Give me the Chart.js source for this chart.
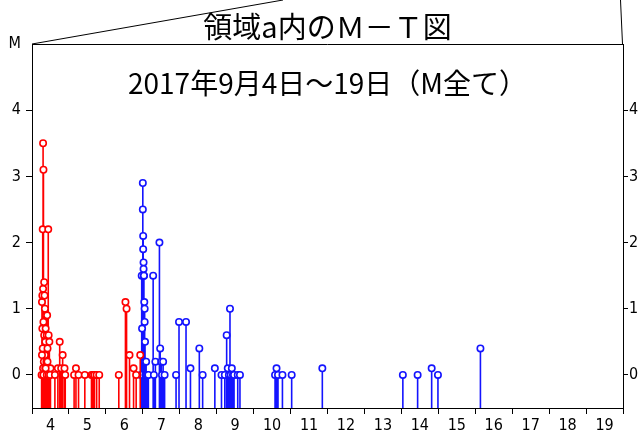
<!DOCTYPE html>
<html>
<head>
<meta charset="utf-8">
<script src="https://cdn.jsdelivr.net/npm/chart.js@4.4.1/dist/chart.umd.min.js"></script>
<style>
  html, body { margin: 0; padding: 0; background: #fff; }
  #wrap { width: 643px; height: 436px; }
</style>
</head>
<body>
<div id="wrap"><canvas id="chartMT"></canvas></div>
<script>
// M-T diagram, 2017/9/4 - 9/19

var titleText = '領域a内のＭ－Ｔ図';
var subText = '2017年9月4日～19日（M全て）';

// time in days of September (4.5 = Sep 4 12:00), magnitude
var redTimes = [4.26, 4.27, 4.28, 4.28, 4.29, 4.29, 4.30, 4.30, 4.30, 4.31, 4.31, 4.32, 4.32, 4.33, 4.33,
    4.34, 4.34, 4.35, 4.35, 4.36, 4.36, 4.37, 4.38, 4.38, 4.39, 4.40, 4.41, 4.42, 4.43, 4.44, 4.45,
    4.46, 4.47, 4.48, 4.50, 4.27, 4.31, 4.37, 4.40, 4.42, 4.45, 4.49,
    4.62, 4.70, 4.75, 4.79, 4.83, 4.88, 4.90, 5.14, 5.19, 5.26, 5.43, 5.61,
    5.65, 5.69, 5.75, 5.82, 6.35, 6.53, 6.56, 6.64, 6.75, 6.82, 6.93];
var redMags = [0.0, 1.1, 0.7, 1.2, 0.4, 2.2, 3.5, 1.3, 0.1, 3.1, 0.8, 0.0, 0.2, 1.4, 0.6,
    1.2, 0.0, 1.0, 0.3, 0.5, 0.1, 0.7, 0.9, 0.0, 0.2, 0.6, 0.9, 0.4, 0.0, 2.2, 0.6,
    0.1, 0.5, 0.0, 0.1, 0.3, 0.0, 0.1, 0.0, 0.2, 0.0, 0.0,
    0.0, 0.1, 0.5, 0.1, 0.3, 0.1, 0.0, 0.0, 0.1, 0.0, 0.0, 0.0,
    0.0, 0.0, 0.0, 0.0, 0.0, 1.1, 1.0, 0.3, 0.1, 0.0, 0.3];

var blueTimes = [6.95, 6.97, 6.98, 7.00, 7.00, 7.01, 7.01, 7.02, 7.02, 7.03, 7.03, 7.04, 7.05, 7.05,
    7.06, 7.06, 7.07, 7.08, 7.09, 7.10, 7.12, 7.15, 7.28, 7.30, 7.34, 7.45, 7.47, 7.50, 7.52, 7.55,
    7.59, 7.90, 7.98, 8.17, 8.29, 8.53, 8.62, 8.95, 9.13, 9.22, 9.27, 9.30, 9.33, 9.36, 9.38, 9.41,
    9.44, 9.47, 9.57, 9.63, 10.58, 10.62, 10.66, 10.78, 11.03, 11.86, 14.04, 14.44, 14.82, 14.99, 16.14];
var blueMags = [0.0, 1.5, 0.7, 2.9, 2.5, 2.1, 1.9, 1.7, 1.6, 1.5, 1.5, 1.1, 1.0, 0.8,
    0.5, 0.2, 0.0, 0.0, 0.2, 0.0, 0.0, 0.0, 1.5, 0.0, 0.2, 2.0, 0.4, 0.2, 0.0, 0.2,
    0.0, 0.0, 0.8, 0.8, 0.1, 0.4, 0.0, 0.1, 0.0, 0.0, 0.6, 0.1, 0.0, 1.0, 0.0, 0.1,
    0.0, 0.0, 0.0, 0.0, 0.0, 0.1, 0.0, 0.0, 0.0, 0.1, 0.0, 0.0, 0.1, 0.0, 0.4];

var dayLabels = [4, 5, 6, 7, 8, 9, 10, 11, 12, 13, 14, 15, 16, 17, 18, 19];
var magTicks = [0, 1, 2, 3, 4];
var yMin = -0.5, yMax = 5;

// each quake is a stem from the bottom up to its magnitude, with a break after it
function stems(times, mags) {
    var pts = [];
    for (var i = 0; i < times.length; i++) {
        pts.push({x: times[i], y: yMin});
        pts.push({x: times[i], y: mags[i]});
        pts.push({x: times[i], y: null});
    }
    return pts;
}

function stemSet(times, mags, color) {
    return {
        data: stems(times, mags),
        borderColor: color,
        borderWidth: 1.6,
        pointBorderColor: color,
        pointBackgroundColor: '#fff',
        pointBorderWidth: 1.6,
        pointRadius: function (ctx) { return ctx.dataIndex % 3 === 1 ? 3.2 : 0; },
        spanGaps: false,
        tension: 0
    };
}

var tickFont = {family: "'Liberation Sans Narrow', 'DejaVu Sans Condensed', 'Liberation Sans', sans-serif", size: 16};

// title above, the slanted frame lines, and the subtitle inside the plot
var framePlugin = {
    id: 'frame',
    afterDraw: function (chart) {
        var c = chart.ctx, a = chart.chartArea;
        c.save();
        c.strokeStyle = '#000';
        c.lineWidth = 1;
        c.beginPath();
        c.moveTo(a.left, a.top + 0.5);
        c.lineTo(a.right, a.top + 0.5);
        c.moveTo(a.left, a.top);
        c.lineTo(283, 0);
        c.moveTo(a.right - 0.5, a.top);
        c.lineTo(a.right - 2.5, 0);
        c.stroke();
        c.fillStyle = '#000';
        c.textAlign = 'center';
        c.textBaseline = 'middle';
        c.font = "29px 'Noto Sans CJK JP', sans-serif";
        c.fillText(titleText, (a.left + a.right) / 2, 27);
        c.font = "28px 'Noto Sans CJK JP', sans-serif";
        c.fillText(subText, (a.left + a.right) / 2, 83);
        c.restore();
    }
};

var configMT = {
    type: 'line',
    data: {
        datasets: [
            stemSet(redTimes, redMags, '#ff0000'),
            stemSet(blueTimes, blueMags, '#1414ff')
        ]
    },
    options: {
        responsive: true,
        maintainAspectRatio: false,
        animation: false,
        layout: {padding: {top: 44, left: 0, right: 0, bottom: 0}},
        plugins: {legend: {display: false}, tooltip: {enabled: false}},
        scales: {
            x: {
                type: 'linear',
                min: 4,
                max: 20,
                afterBuildTicks: function (s) {
                    var t = [];
                    for (var i = 0; i < dayLabels.length; i++) {
                        t.push({value: dayLabels[i]});
                        t.push({value: dayLabels[i] + 0.5});
                    }
                    t.push({value: 20});
                    s.ticks = t;
                },
                afterFit: function (s) { s.height = 28; },
                ticks: {
                    autoSkip: false,
                    maxRotation: 0,
                    padding: 2,
                    color: '#000',
                    font: tickFont,
                    callback: function (v) { return Number.isInteger(v) ? '' : String(Math.floor(v)); }
                },
                grid: {
                    drawOnChartArea: false,
                    tickLength: 6,
                    tickColor: function (ctx) { return Number.isInteger(ctx.tick.value) ? '#000' : 'rgba(0,0,0,0)'; }
                },
                border: {color: '#000', width: 1}
            },
            y: {
                position: 'left',
                min: yMin,
                max: yMax,
                afterBuildTicks: function (s) {
                    s.ticks = magTicks.map(function (v) { return {value: v}; }).concat([{value: yMax}]);
                },
                afterFit: function (s) { s.width = 32; },
                ticks: {
                    autoSkip: false,
                    padding: 5,
                    color: '#000',
                    font: tickFont,
                    callback: function (v) { return v === yMax ? 'M' : String(v); }
                },
                grid: {
                    drawOnChartArea: false,
                    tickLength: 6,
                    tickColor: function (ctx) { return ctx.tick.value === yMax ? 'rgba(0,0,0,0)' : '#000'; }
                },
                border: {color: '#000', width: 1}
            },
            y2: {
                position: 'right',
                min: yMin,
                max: yMax,
                afterBuildTicks: function (s) {
                    s.ticks = magTicks.map(function (v) { return {value: v}; });
                },
                afterFit: function (s) { s.width = 20; },
                ticks: {
                    autoSkip: false,
                    padding: 1,
                    color: '#000',
                    font: tickFont
                },
                grid: {drawOnChartArea: false, tickLength: 5, tickColor: '#000'},
                border: {color: '#000', width: 1}
            }
        }
    },
    plugins: [framePlugin]
};

new Chart(document.getElementById('chartMT').getContext('2d'), configMT);
</script>
</body>
</html>
